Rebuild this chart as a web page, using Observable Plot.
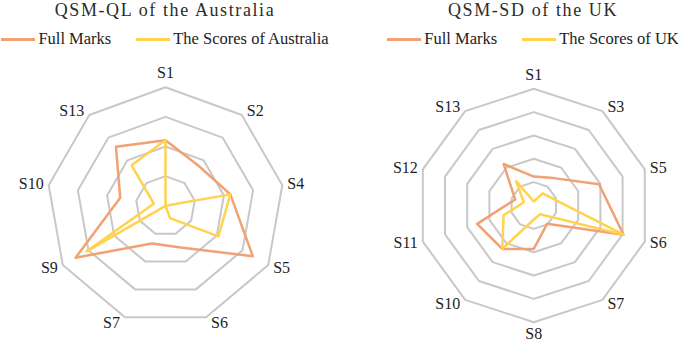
<!DOCTYPE html>
<html><head><meta charset="utf-8">
<script src="https://cdn.jsdelivr.net/npm/d3@7"></script>
<script src="https://cdn.jsdelivr.net/npm/@observablehq/plot@0.6"></script>
<style>
body{margin:0;background:#fff;font-family:"Liberation Serif","Times New Roman",serif;}
#wrap{position:relative;width:685px;height:342px;overflow:hidden;}
.panel{position:absolute;top:0;height:342px;}
.title{position:absolute;top:0px;left:-30px;right:-30px;text-align:center;font-size:18px;line-height:20px;letter-spacing:1.6px;color:#2b2b2b;white-space:nowrap;}
.legend{position:absolute;top:29px;left:-30px;right:-30px;height:20px;display:flex;justify-content:center;align-items:center;font-size:16.5px;line-height:20px;color:#222;white-space:nowrap;}
.item{display:flex;align-items:center;margin:0 12.5px;}
.sw{display:inline-block;width:34px;height:3px;margin-right:3px;}
.chart{position:absolute;top:55px;left:0;}
</style>
</head><body>
<div id="wrap">
  <div class="panel" id="p1" style="left:0;width:330px;"></div>
  <div class="panel" id="p2" style="left:381px;width:304px;"></div>
</div>
<script>
// ---------- data ----------
const leftTitle = "QSM-QL of the Australia";
const leftAxes = ["S1","S2","S4","S5","S6","S7","S9","S10","S13"];
const leftFull  = [2.21, 1.75, 2.22, 3.40, 1.50, 1.35, 3.50, 1.55, 2.60];
const leftScore = [2.21, 0.00, 2.22, 2.06, 0.44, 0.00, 3.07, 0.40, 1.78];
const leftSeriesNames = ["Full Marks", "The Scores of Australia"];
const leftRings = [1, 2, 3, 4];

const rightTitle = "QSM-SD of the UK";
const rightAxes = ["S1","S3","S5","S6","S7","S8","S10","S11","S12","S13"];
const rightFull  = [1.24, 1.45, 2.94, 4.04, 0.97, 1.86, 2.30, 2.55, 0.84, 2.20];
const rightScore = [0.17, 0.64, 0.90, 4.04, 0.46, 0.60, 2.30, 1.36, 0.45, 1.29];
const rightSeriesNames = ["Full Marks", "The Scores of UK"];
const rightRings = [1, 2, 3, 4, 5];

const colors = ["#F2A173", "#FFD34E"];
const gridColor = "#c8c8c8";
const FONT = "Liberation Serif, Times New Roman, serif";

function radar(el, {title, axes, full, score, names, rings, ppu, width, height, cx, cy}) {
  const n = axes.length;
  const ang = i => 2 * Math.PI * i / n;
  const maxR = d3.max(rings);
  const ringData = [];
  rings.forEach(r => axes.forEach((a, i) => ringData.push({ring: r, x: r * Math.sin(ang(i)), y: r * Math.cos(ang(i))})));
  const pts = vals => vals.map((v, i) => ({x: v * Math.sin(ang(i)), y: v * Math.cos(ang(i))}));
  const labels = axes.map((a, i) => {
    const s = Math.sin(ang(i)), c = Math.cos(ang(i));
    const vx = maxR * s, vy = maxR * c;
    if (Math.abs(s) < 0.05) return {label: a, anchor: "middle", x: vx, y: vy + (c > 0 ? 14 : -12) / ppu};
    return {label: a, anchor: s > 0 ? "start" : "end", x: vx + Math.sign(s) * 5 / ppu, y: vy + c * 5.5 / ppu};
  });
  const txt = anchor => Plot.text(labels.filter(d => d.anchor === anchor), {
    x: "x", y: "y", text: "label", textAnchor: anchor, fontSize: 16, fontFamily: FONT, fill: "#1e1e1e"
  });
  const chart = Plot.plot({
    width, height, margin: 0,
    x: {domain: [-cx / ppu, (width - cx) / ppu], axis: null},
    y: {domain: [-(height - cy) / ppu, cy / ppu], axis: null},
    style: {overflow: "visible", background: "transparent"},
    marks: [
      Plot.line(ringData, {x: "x", y: "y", z: "ring", curve: "linear-closed", stroke: gridColor, strokeWidth: 2}),
      Plot.line(pts(full), {x: "x", y: "y", curve: "linear-closed", stroke: colors[0], strokeWidth: 2.5, strokeLinejoin: "round"}),
      Plot.line(pts(score), {x: "x", y: "y", curve: "linear-closed", stroke: colors[1], strokeWidth: 2.5, strokeLinejoin: "round"}),
      txt("middle"), txt("start"), txt("end")
    ]
  });
  chart.classList.add("chart");
  const t = document.createElement("div");
  t.className = "title"; t.textContent = title;
  const lg = document.createElement("div");
  lg.className = "legend";
  names.forEach((nm, k) => {
    const it = document.createElement("span"); it.className = "item";
    const sw = document.createElement("span"); sw.className = "sw"; sw.style.background = colors[k];
    const lb = document.createElement("span"); lb.textContent = nm;
    it.append(sw, lb); lg.append(it);
  });
  el.append(t, lg, chart);
}

radar(document.getElementById("p1"), {
  title: leftTitle, axes: leftAxes, full: leftFull, score: leftScore, names: leftSeriesNames,
  rings: leftRings, ppu: 118.6 / 4, width: 330, height: 287, cx: 165, cy: 150.3
});
radar(document.getElementById("p2"), {
  title: rightTitle, axes: rightAxes, full: rightFull, score: rightScore, names: rightSeriesNames,
  rings: rightRings, ppu: 116.7 / 5, width: 304, height: 287, cx: 152.3, cy: 150
});
</script>
</body></html>
